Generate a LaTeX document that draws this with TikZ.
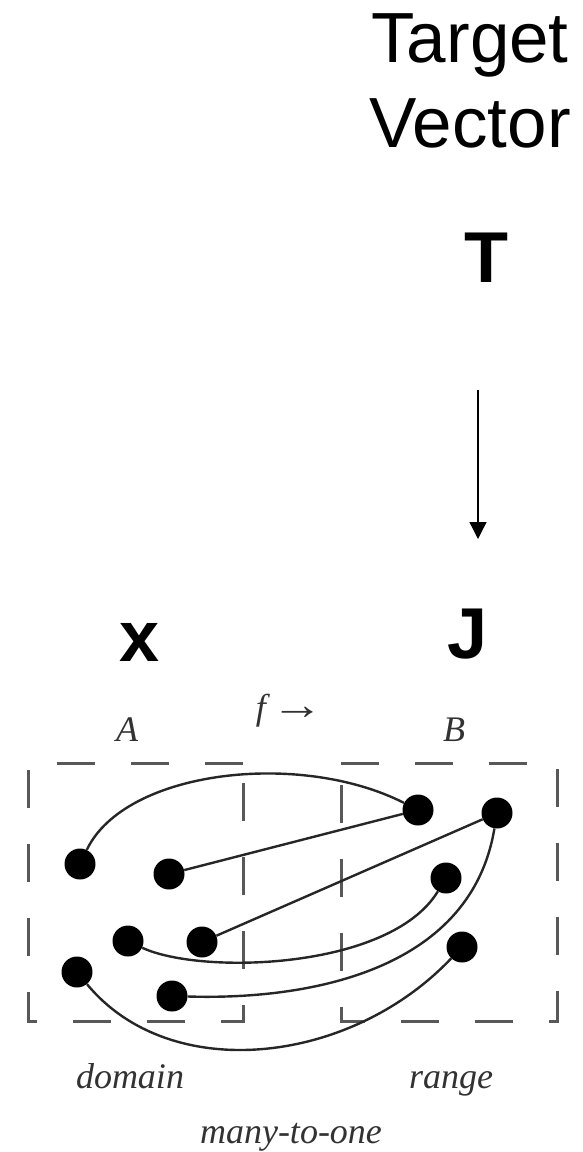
\documentclass[tikz,border=0pt]{standalone}
\usepackage{fontspec}
\usepackage{graphicx}
\setmainfont{Liberation Serif}
\newfontfamily\arialfont{Liberation Sans}
\usetikzlibrary{arrows.meta}
\definecolor{boxgray}{RGB}{88,88,88}
\definecolor{labgray}{RGB}{50,50,50}
\begin{document}
\begin{tikzpicture}[x=1pt,y=-1pt,
  big/.style={font=\arialfont\fontsize{71}{85}\selectfont, inner sep=0pt, anchor=base},
  bigb/.style={font=\arialfont\bfseries\fontsize{72}{86}\selectfont, inner sep=0pt, anchor=base},
  lab/.style={font=\itshape\fontsize{36}{40}\selectfont, text=labgray, inner sep=0pt, anchor=base},
  dot/.style={circle, fill=black, inner sep=0pt, minimum size=31pt},
  conn/.style={line width=2.4pt, draw=black!85},
  dbox/.style={draw=boxgray, line width=3pt, dash pattern=on 38pt off 36pt}]
\useasboundingbox (0,0) rectangle (583,1152);

% top texts
\node[big] (target) at (470,62) {Target};
\node[big] (vector) at (470,147) {Vector};
\node[bigb] (T) at (486,282) {T};
\coordinate (atop) at (478,390);
\coordinate (abot) at (478,539);
\draw[line width=1.3pt, -{Triangle[length=17pt,width=17pt]}] (atop) -- (abot);
\node[bigb] (J) at (468,658) {J};
\node[bigb] (x) at (139.5,661) {x};

% labels
\node[lab] (A) at (127,741) {A};
\node[lab] (f) at (290,719) {f\,\scalebox{1.45}[1.2]{\upshape →}};
\node[lab] (B) at (454,741) {B};
\node[lab] (domain) at (130,1088) {domain};
\node[lab] (range) at (451,1088) {range};
\node[lab] (many) at (291,1143) {many-to-one};

% boxes
\draw[dbox] (243,763) -- (28,763) -- (28,1021) -- (243,1021) -- cycle;
\draw[dbox] (341,763) -- (557,763) -- (557,1021) -- (341,1021) -- cycle;

% dots
\node[dot] (l1) at (80,864) {};
\node[dot] (l2) at (169,874) {};
\node[dot] (l3) at (128,941) {};
\node[dot] (l4) at (202,942) {};
\node[dot] (l5) at (77,972) {};
\node[dot] (l6) at (172,996) {};
\node[dot] (r1) at (418,810) {};
\node[dot] (r2) at (497,813) {};
\node[dot] (r3) at (446,878) {};
\node[dot] (r4) at (462,947) {};

% connectors
\draw[conn] (l1) .. controls (125,770) and (300,750) .. (r1);
\draw[conn] (l2) -- (r1);
\draw[conn] (l4) -- (r2);
\draw[conn] (l3) .. controls (200,975) and (390,970) .. (r3);
\draw[conn] (l6) .. controls (300,1000) and (470,975) .. (r2);
\draw[conn] (l5) .. controls (170,1085) and (350,1065) .. (r4);
\end{tikzpicture}
\end{document}
